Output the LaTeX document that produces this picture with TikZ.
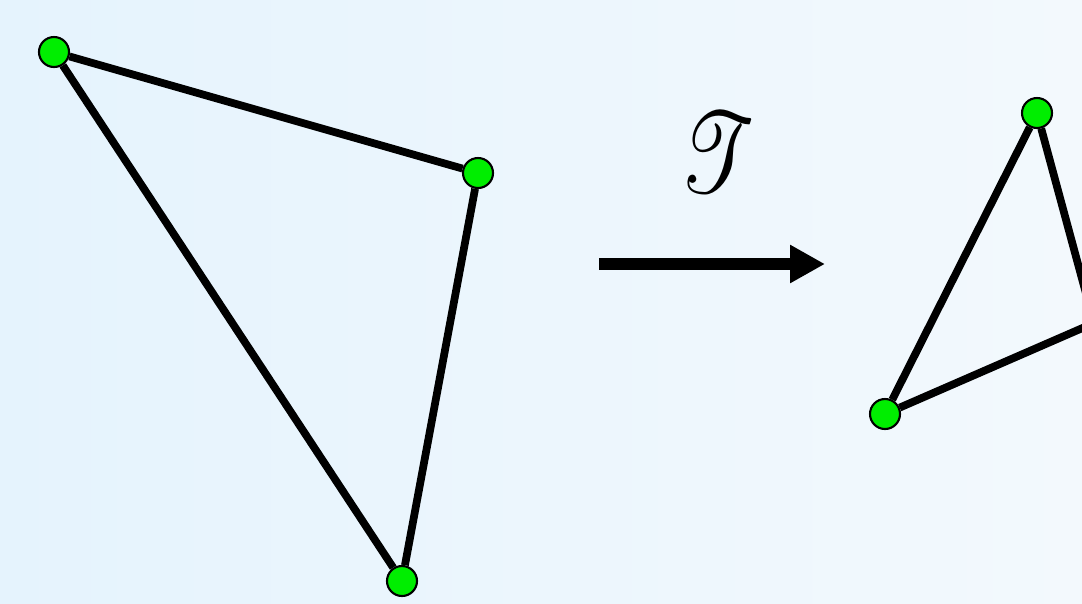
\documentclass[tikz,border=0pt]{standalone}
\usepackage{mathrsfs}
\usepackage{tikz}
\usetikzlibrary{arrows.meta,backgrounds}
\definecolor{bgleft}{RGB}{229,243,253}
\definecolor{bgright}{RGB}{243,249,253}
\definecolor{vertgreen}{RGB}{0,238,0}

\begin{document}
\begin{tikzpicture}[x=0.02cm,y=-0.02cm,
    vert/.style={circle,draw=black,line width=1.2pt,fill=vertgreen,minimum size=0.6cm,inner sep=0pt},
    edge/.style={line width=4.4pt}]
      \useasboundingbox (0,0) rectangle (1082,603);
      \clip (0,0) rectangle (1082,603);
      \begin{pgfonlayer}{background}
        \shade[left color=bgleft,right color=bgright] (0,0) rectangle (1082,603);
      \end{pgfonlayer}
      % original triangle
      \node[vert] (a) at (54,52) {};
      \node[vert] (b) at (478,173) {};
      \node[vert] (c) at (402,581) {};
      % image triangle
      \node[vert] (d) at (1037,113) {};
      \node[vert] (e) at (885,414) {};
      \coordinate (f) at (1094,323);
      \begin{pgfonlayer}{background}
        \draw[edge] (a) -- (b) -- (c) -- (a);
        \draw[edge] (e) -- (d) -- (f) -- (e);
      \end{pgfonlayer}
      % the map
      \coordinate (m0) at (599,264);
      \coordinate (m1) at (825,264);
      \draw[line width=0.24cm,-{Triangle[length=0.7cm,width=0.72cm]}] (m0) -- (m1);
      \node[xscale=2.0,yscale=2.6,xslant=-0.3] (map) at (718,153) {\fontsize{25}{30}\selectfont$\mathscr{T}$};
    \end{tikzpicture}
\end{document}
